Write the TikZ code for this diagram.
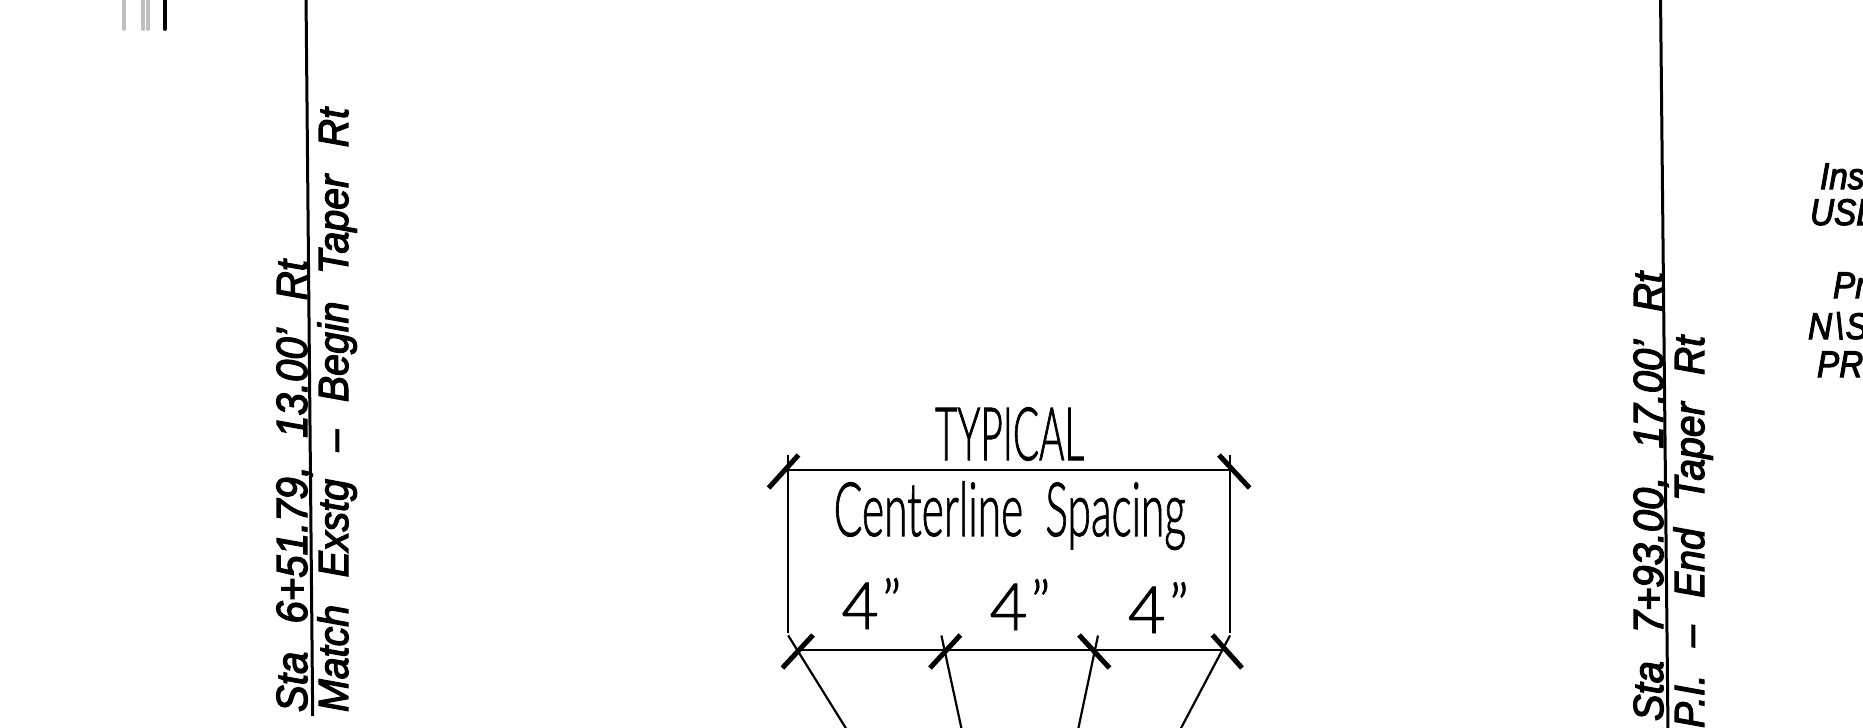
\documentclass[tikz,border=0pt]{standalone}
\usepackage{fontspec}
\usepackage{graphicx}
\setmainfont{Liberation Sans}
\newfontfamily\capfont{Liberation Sans}[FakeBold=3]
\newfontfamily\thinfont{Lato Light}[FakeBold=1.5]
\newcommand{\fitbox}[3]{\resizebox{#1pt}{#2pt}{\setbox0\hbox{T}\dimen0=\ht0 \setbox0\hbox{#3}\ht0=\dimen0 \box0}}
\newcommand{\gp}{\hspace{.7em}}
\newcommand{\nrw}[1]{\scalebox{.9}[1]{#1}}
\tikzset{
  lbl/.style={inner sep=0pt,outer sep=0pt,anchor=base west},
  vlbl/.style={lbl,rotate=90,font=\capfont\itshape},
  tlbl/.style={lbl,font=\thinfont},
  rlbl/.style={lbl,font=\capfont\itshape\fontsize{37}{37}\selectfont},
  thinline/.style={line width=2.2pt},
  longline/.style={line width=3pt},
  tick/.style={line width=5pt},
  stub/.style={line width=3.8pt,line cap=round}
}
\begin{document}
\begin{tikzpicture}[x=1pt,y=-1pt]
\useasboundingbox (0,0) rectangle (1863,728);
\clip (0,0) rectangle (1863,728);
% stubs top left
\coordinate (s1a) at (124,-5); \coordinate (s1b) at (124,29);
\coordinate (s2a) at (143,-5); \coordinate (s2b) at (143,29);
\coordinate (s3a) at (148,-5); \coordinate (s3b) at (148,29);
\coordinate (s4a) at (164.7,-5); \coordinate (s4b) at (164.7,29);
\draw[stub,black!25] (s1a) -- (s1b);
\draw[stub,black!25] (s2a) -- (s2b);
\draw[stub,black!25] (s3a) -- (s3b);
\draw[stub,black] (s4a) -- (s4b);
% long lines
\coordinate (la) at (306,-5); \coordinate (lb) at (312.7,716);
\coordinate (ra) at (1660.5,-5); \coordinate (rb) at (1668,733);
\draw[longline] (la) -- (lb);
\draw[longline] (ra) -- (rb);
% rotated labels
\node[vlbl] (t1) at (307,712) {\fitbox{452}{30}{Sta\gp 6+51.79,\gp 13.00’\gp Rt}};
\node[vlbl] (t2) at (348,712) {\fitbox{604}{29}{Match\gp Exstg\gp –\gp Begin\gp Taper\gp Rt}};
\node[vlbl] (t3) at (1663,721) {\fitbox{449}{29}{Sta\gp 7+93.00,\gp 17.00’\gp Rt}};
\node[vlbl] (t4) at (1704,728) {\fitbox{392}{29}{P.I.\gp –\gp End\gp Taper\gp Rt}};
% right clipped text
\node[rlbl] (r1) at (1820,189) {\nrw{Ins}};
\node[rlbl] (r2) at (1810,225) {\nrw{USE}};
\node[rlbl] (r3) at (1833,298) {\nrw{Pr}};
\node[rlbl] (r4) at (1808,339) {\nrw{N\hspace{.08em}\textbackslash\hspace{.05em}S}};
\node[rlbl] (r5) at (1817,377) {\nrw{PRE}};
% dimension box
\coordinate (tlu) at (788.2,455); \coordinate (tru) at (1230,455);
\coordinate (bl) at (788.2,633); \coordinate (br) at (1230,633);
\draw[thinline] (tlu) -- (bl);
\draw[thinline] (tru) -- (br);
\draw[thinline] (787.1,470) -- (1231.1,470);
\coordinate (b1) at (798.5,650); \coordinate (b4) at (1223,650);
\draw[thinline] (b1) -- (b4);
% ticks
\draw[tick] (768.6,488) -- (798.5,455);
\draw[tick] (1219,455) -- (1249.6,488);
\draw[tick] (782.4,668) -- (813,635);
\draw[tick] (930,668) -- (960.4,635);
\draw[tick] (1079,635) -- (1109.5,668);
\draw[tick] (1212.5,635) -- (1242,668);
% leaders
\draw[thinline] (788.2,635.5) -- (847,730);
\draw[thinline] (941.4,635.5) -- (961.8,730);
\draw[thinline] (1098,635.5) -- (1078,730);
\draw[thinline] (1230,635.5) -- (1180,730);
% thin labels
\node[tlbl] (typ) at (935,460) {\fitbox{149}{52}{TYPICAL}};
\node[tlbl] (cs) at (833.7,536) {\fitbox{352}{53}{Centerline\hspace{.25em} Spacing}};
\node[tlbl] (d1) at (841.6,629) {\fitbox{60}{46}{4\hspace{.05em}\raisebox{.1em}{\scalebox{.9}{”}}}};
\node[tlbl] (d2) at (989.7,630) {\fitbox{61}{46}{4\hspace{.05em}\raisebox{.1em}{\scalebox{.9}{”}}}};
\node[tlbl] (d3) at (1128,633) {\fitbox{61}{46}{4\hspace{.05em}\raisebox{.1em}{\scalebox{.9}{”}}}};
\end{tikzpicture}
\end{document}
